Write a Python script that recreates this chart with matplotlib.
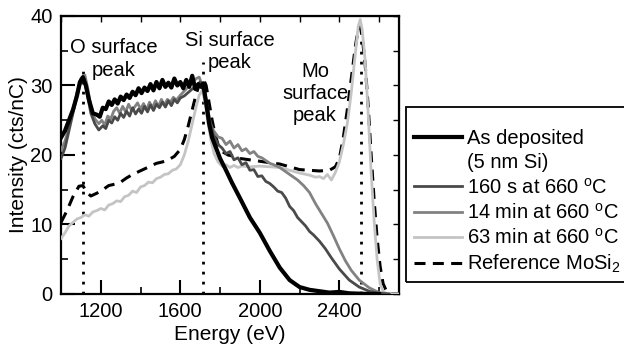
import numpy as np
import matplotlib
matplotlib.use("Agg")
import matplotlib.pyplot as plt
from matplotlib.lines import Line2D
from matplotlib.patches import Rectangle

plt.rcParams['font.family'] = ['Liberation Sans', 'DejaVu Sans']
plt.rcParams['mathtext.fontset'] = 'custom'
plt.rcParams['mathtext.rm'] = 'Liberation Sans'
plt.rcParams['mathtext.it'] = 'Liberation Sans:italic'

# as deposited (5 nm Si)
e_dep = [1000, 1020, 1040, 1060, 1080, 1095, 1110, 1125, 1140, 1160, 1180, 1195,
         1210, 1225, 1240, 1255, 1270, 1285, 1300, 1315, 1330, 1345, 1360, 1375,
         1390, 1405, 1420, 1435, 1450, 1465, 1480, 1495, 1510, 1525, 1540, 1555,
         1570, 1585, 1600, 1615, 1630, 1645, 1660, 1675, 1690, 1705, 1715, 1730,
         1745, 1760, 1780, 1800, 1830, 1860, 1900, 1950, 2000, 2050, 2100, 2150,
         2200, 2250, 2300, 2350, 2400, 2450, 2500, 2550, 2600]
i_dep = [22.5, 23.5, 25, 26.5, 28.5, 30.5, 31.2, 30, 28, 26, 25.8, 25.5,
         26.8, 26.6, 27.7, 27.2, 28, 27.4, 28.4, 27.9, 28.7, 28.2, 29.1, 28.6,
         29.6, 28.9, 29.7, 29.2, 30.2, 29.3, 30.5, 29.6, 30.8, 29.8, 30.4, 29.7,
         31, 30, 30.5, 29.6, 30.8, 29.8, 31.4, 29.5, 30.2, 29.8, 30.3, 27.5,
         24.5, 22.5, 21, 19.5, 17.8, 16, 13.8, 11, 8.8, 6.2, 3.8, 2,
         1, 0.6, 0.4, 0.2, 0.3, 0.1, 0.05, 0, 0]

# 160 s at 660 C
e_160s = [1000, 1020, 1040, 1060, 1080, 1100, 1115, 1130, 1150, 1170, 1190, 1210,
          1225, 1240, 1255, 1270, 1285, 1300, 1315, 1330, 1345, 1360, 1375, 1390,
          1405, 1420, 1435, 1450, 1465, 1480, 1495, 1510, 1525, 1540, 1555, 1570,
          1585, 1600, 1620, 1640, 1660, 1680, 1700, 1715, 1730, 1745, 1765, 1790,
          1810, 1830, 1850, 1870, 1890, 1910, 1930, 1950, 1970, 1990, 2010, 2030,
          2050, 2070, 2090, 2110, 2130, 2150, 2170, 2190, 2210, 2230, 2250, 2270,
          2300, 2330, 2360, 2400, 2450, 2500, 2550, 2600, 2650]
i_160s = [19.5, 21, 23.5, 26, 28.5, 30.5, 31, 29, 26, 24.5, 23.6, 24.2,
          23.8, 25, 24.6, 25.5, 25, 26, 25.4, 26.3, 25.6, 26.8, 25.9, 26.6,
          26, 27, 26.2, 27.2, 26.4, 27.3, 26.8, 27.6, 26.9, 27.8, 27.1, 28,
          27.5, 28.2, 28.5, 29, 29.5, 29.8, 30.5, 30, 28, 25.5, 23, 21.5,
          21, 20.2, 20.5, 19.3, 19.6, 18.6, 18.9, 17.8, 17.9, 16.9, 17, 16.2,
          15.9, 15.4, 14.8, 14.6, 13.8, 12.6, 12, 11, 10.4, 9.8, 9, 8.5,
          7.6, 6.5, 5.2, 3.6, 2, 1, 0.4, 0.1, 0]

# 14 min at 660 C
e_14m = [1000, 1020, 1040, 1060, 1080, 1100, 1120, 1135, 1150, 1170, 1190, 1205,
         1220, 1235, 1250, 1265, 1280, 1295, 1310, 1325, 1340, 1355, 1370, 1385,
         1400, 1415, 1430, 1445, 1460, 1475, 1490, 1505, 1520, 1535, 1550, 1565,
         1580, 1600, 1620, 1640, 1660, 1680, 1695, 1710, 1725, 1745, 1765, 1790,
         1810, 1830, 1850, 1870, 1890, 1910, 1930, 1950, 1970, 1990, 2010, 2030,
         2050, 2070, 2100, 2130, 2160, 2190, 2220, 2250, 2280, 2310, 2340, 2370,
         2400, 2430, 2460, 2500, 2550, 2600, 2650]
i_14m = [20.7, 22, 24, 26.5, 29, 31, 31.5, 29.5, 27, 25.2, 24.5, 25,
         24.3, 25.6, 25.2, 26.3, 26.8, 26, 27, 26.2, 27.3, 26.4, 26.9, 27.5,
         26.6, 27.4, 26.5, 27.6, 26.8, 27.8, 27, 28, 27.2, 28, 27.6, 28.3,
         27.9, 28.6, 29.2, 29.8, 30.4, 31, 31.2, 30, 28, 25, 23.6, 22.6,
         22.4, 21.5, 22, 21, 21.5, 20.6, 20.9, 20.2, 20.5, 19.8, 19.6, 19.2,
         18.8, 18.6, 18.2, 17.6, 17, 16.4, 15.6, 14.6, 13, 11.6, 10.2, 8.4,
         6.5, 4.8, 3.4, 2, 0.9, 0.2, 0]

# 63 min at 660 C
e_63m = [1000, 1020, 1040, 1060, 1080, 1100, 1120, 1140, 1160, 1180, 1200, 1220,
         1240, 1260, 1280, 1300, 1320, 1340, 1360, 1380, 1400, 1420, 1440, 1460,
         1480, 1500, 1520, 1540, 1560, 1580, 1600, 1620, 1640, 1660, 1680, 1695,
         1710, 1725, 1740, 1755, 1770, 1790, 1810, 1830, 1850, 1870, 1890, 1910,
         1950, 2000, 2050, 2100, 2150, 2200, 2250, 2280, 2300, 2320, 2340, 2360,
         2380, 2400, 2420, 2440, 2460, 2480, 2495, 2505, 2515, 2530, 2545, 2560,
         2575, 2590, 2605, 2620, 2640, 2700]
i_63m = [8, 8.8, 9.8, 10.3, 10.8, 11, 11.4, 11.2, 11.8, 12, 12.3, 12.1,
         12.8, 13, 13.4, 13.3, 14, 14.2, 14.8, 14.6, 15.4, 15.6, 16.1, 16,
         16.6, 16.8, 17.2, 17.3, 17.8, 18, 18.6, 20, 22, 24.5, 27, 28.6,
         29.3, 27.5, 24.5, 22, 20.2, 19, 18.4, 18.6, 18.2, 18.5, 18.2, 18.4,
         18.3, 18.4, 18.3, 18.2, 17.8, 17.4, 17.1, 16.8, 16.9, 16.6, 17.2, 16.4,
         17.5, 19, 21.5, 24.5, 29, 34.5, 38.5, 39.5, 38, 33.5, 26, 17.5,
         10.5, 5, 1.5, 0.4, 0, 0]

# reference MoSi2
e_ref = [1000, 1030, 1060, 1090, 1110, 1130, 1150, 1180, 1210, 1240, 1270, 1300,
         1330, 1360, 1390, 1420, 1450, 1480, 1510, 1540, 1570, 1600, 1620, 1640,
         1660, 1680, 1700, 1715, 1730, 1745, 1760, 1775, 1790, 1810, 1840, 1870,
         1900, 1950, 2000, 2050, 2100, 2150, 2200, 2250, 2300, 2350, 2380, 2400,
         2420, 2440, 2460, 2480, 2495, 2505, 2515, 2530, 2545, 2560, 2575, 2590,
         2605, 2620, 2640, 2660, 2700]
i_ref = [10.3, 12, 14, 15.5, 15.6, 14.6, 14.1, 14.5, 15, 15.6, 15.8, 16.1,
         16.7, 17.2, 17.6, 18, 18.4, 18.8, 19, 19.3, 19.8, 20.8, 22.2, 24.2,
         26.5, 28.8, 30.5, 31, 30, 27.5, 25, 23, 21.5, 20.5, 20, 19.8,
         19.5, 19.3, 19.1, 18.9, 18.7, 18.3, 17.9, 17.8, 17.7, 17.8, 18.3, 19.5,
         22.5, 26.5, 31, 35.5, 38.2, 38.5, 37, 33, 27, 20, 13.5, 8,
         4, 1.5, 0.2, 0, 0]

# surface peak positions (eV) and heights of the marker lines
peak_e = [1110, 1712, 2510]
peak_top = [33, 33.4, 37.5]

fig = plt.figure(figsize=(6.24, 3.46), dpi=100)
ax = fig.add_axes([0.0978, 0.1503, 0.5416, 0.8035])

for pe, pt in zip(peak_e, peak_top):
    ax.plot([pe, pe], [0, pt], color='black', lw=2, ls=(0, (1, 2.6)), zorder=1)

ax.plot(e_ref, i_ref, color='black', lw=2.2, ls=(0, (3.6, 2.4)), zorder=2)
ax.plot(e_63m, i_63m, color='#c4c4c4', lw=2, zorder=3)
ax.plot(e_14m, i_14m, color='#828282', lw=2, zorder=4)
ax.plot(e_160s, i_160s, color='#4a4a4a', lw=2, zorder=5)
ax.plot(e_dep, i_dep, color='black', lw=3, zorder=6)

ax.set_xlim(1000, 2700)
ax.set_ylim(0, 40)
ax.set_xticks([1200, 1600, 2000, 2400])
ax.set_xticks([1400, 1800, 2200, 2600], minor=True)
ax.set_yticks([0, 10, 20, 30, 40])
ax.set_yticks([5, 15, 25, 35], minor=True)
ax.tick_params(which='major', direction='in', length=10, width=1.5,
               labelsize=14.5, pad=6)
ax.tick_params(which='minor', direction='in', length=5, width=1.2)
for s in ax.spines.values():
    s.set_linewidth(1.6)

# short ticks along the top and right edges
top = ax.secondary_xaxis('top')
top.set_xticks(np.arange(1000, 2701, 200))
top.tick_params(direction='in', length=4, width=1, labeltop=False)
right = ax.secondary_yaxis('right')
right.set_yticks(np.arange(0, 41, 5))
right.tick_params(direction='in', length=4, width=1, labelright=False)

ax.set_xlabel('Energy (eV)', fontsize=15, labelpad=3)
ax.set_ylabel('Intensity (cts/nC)', fontsize=15, labelpad=2)

ax.text(1264, 33.8, 'O surface\npeak', ha='center', va='center', fontsize=14.5,
        linespacing=1.25)
ax.text(1850, 34.9, 'Si surface\npeak', ha='center', va='center', fontsize=14.5,
        linespacing=1.25)
ax.text(2278, 28.8, 'Mo\nsurface\npeak', ha='center', va='center', fontsize=14.5,
        linespacing=1.2)

handles = [
    Line2D([], [], color='black', lw=3),
    Line2D([], [], color='none'),
    Line2D([], [], color='#4a4a4a', lw=2),
    Line2D([], [], color='#828282', lw=2),
    Line2D([], [], color='#c4c4c4', lw=2),
    Line2D([], [], color='black', lw=2.2, ls=(0, (3.6, 2.4))),
]
labels = ['As deposited', '(5 nm Si)',
          r'160 s at 660 $^\mathrm{o}$C',
          r'14 min at 660 $^\mathrm{o}$C',
          r'63 min at 660 $^\mathrm{o}$C',
          r'Reference MoSi$_2$']
fig.legend(handles, labels, loc='upper left',
           bbox_to_anchor=(414 / 624, 1 - 129 / 346), fontsize=14.5,
           frameon=False, handlelength=2.4, handletextpad=0.25,
           labelspacing=0.26, borderpad=0, borderaxespad=0)

# legend box runs off the right edge of the figure
fig.patches.append(Rectangle((406 / 624, 1 - 282 / 346), 0.4, 175 / 346,
                             transform=fig.transFigure, fill=False,
                             edgecolor='black', lw=1.3, zorder=0))

fig.savefig('out.png', dpi=100)
